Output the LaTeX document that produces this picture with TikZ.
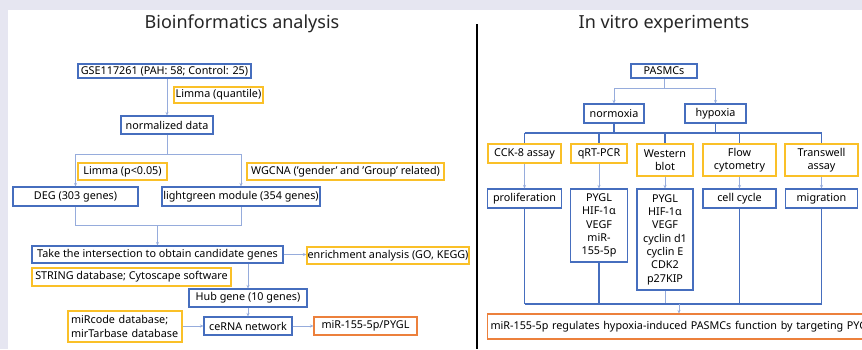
\documentclass[tikz,border=0pt]{standalone}
\usepackage{fontspec}
\setmainfont{Noto Sans}
\usetikzlibrary{arrows.meta}
\definecolor{bgc}{RGB}{230,230,241}
\definecolor{bbl}{RGB}{70,110,190}
\definecolor{ylw}{RGB}{250,192,40}
\definecolor{org}{RGB}{236,128,60}
\definecolor{lbl}{RGB}{150,172,220}
\tikzset{
  box/.style={draw, line width=1.1pt, inner sep=0pt, font=\fontsize{10.8}{13.3}\selectfont, align=center, fill=white},
  bbox/.style={box, draw=bbl},
  ybox/.style={box, draw=ylw},
  obox/.style={box, draw=org},
  lline/.style={draw=lbl, line width=0.7pt},
  larr/.style={lline, -{Stealth[length=3.5pt,width=3pt]}},
  dline/.style={draw=bbl, line width=1.1pt},
  ttl/.style={font=\fontsize{18}{22}\selectfont, text=black!85},
}
\begin{document}
\begin{tikzpicture}[x=1pt,y=-1pt]
\clip (0,0) rectangle (862,349);
\fill[bgc] (0,0) rectangle (862,349);
\fill[white] (8,10) rectangle (862,349);
\draw[line width=2.6pt] (477,24) -- (477,349);
\node[ttl] (t1) at (242,24) {Bioinformatics analysis};
\node[ttl] (t2) at (664,24) {In vitro experiments};
% left
\node[bbox, minimum width=173, minimum height=14] (gse) at (164.5,71) {GSE117261 (PAH: 58; Control: 25)};
\node[ybox, minimum width=89, minimum height=16] (limq) at (218.5,95) {Limma (quantile)};
\node[bbox, minimum width=92, minimum height=18] (norm) at (167,125) {normalized data};
\node[ybox, minimum width=89, minimum height=17] (limp) at (122.5,171.5) {Limma (p<0.05)};
\node[ybox, minimum width=197, minimum height=17] (wgcna) at (345.5,171.5) {WGCNA ('gender' and 'Group' related)};
\node[bbox, minimum width=125, minimum height=19] (deg) at (75.5,196.5) {DEG (303 genes)};
\node[bbox, minimum width=158, minimum height=19] (lg) at (241,196.5) {lightgreen module (354 genes)};
\node[bbox, minimum width=251, minimum height=17] (inter) at (157.5,254.5) {Take the intersection to obtain candidate genes};
\node[ybox, minimum width=162, minimum height=17] (enr) at (388,255.5) {enrichment analysis (GO, KEGG)};
\node[ybox, minimum width=199, minimum height=18] (str) at (131.5,277) {STRING database; Cytoscape software};
\node[bbox, minimum width=118, minimum height=18] (hub) at (248,298) {Hub gene (10 genes)};
\node[ybox, minimum width=114, minimum height=31, align=left, text width=108] (mirc) at (125,326.5) {miRcode database;\\mirTarbase database};
\node[bbox, minimum width=88, minimum height=18] (cerna) at (248,326) {ceRNA network};
\node[obox, minimum width=103, minimum height=18] (mirp) at (365.5,326) {miR-155-5p/PYGL};
\draw[larr] (norm.north |- gse.south) -- (norm.north);
\draw[lline] (norm.south) -- (norm.south |- 0,154);
\draw[lline] (deg.north |- 0,154) -- (lg.north |- 0,154);
\draw[larr] (deg.north |- 0,154) -- (deg.north);
\draw[larr] (lg.north |- 0,154) -- (lg.north);
\draw[lline] (deg.south) -- (deg.south |- 0,225) -- (lg.south |- 0,225) -- (lg.south);
\draw[larr] (inter.north |- 0,225) -- (inter.north);
\draw[larr] (inter.east) -- (enr.west |- inter.east);
\draw[larr] (hub.north |- inter.south) -- (hub.north);
\draw[larr] (hub.south) -- (cerna.north);
\draw[larr] (mirc.east |- cerna.west) -- (cerna.west);
\draw[larr] (cerna.east) -- (mirp.west);
% right
\node[bbox, minimum width=66, minimum height=14] (pas) at (664,71) {PASMCs};
\node[bbox, minimum width=60, minimum height=19] (nor) at (614,113.5) {normoxia};
\node[bbox, minimum width=61, minimum height=19] (hyp) at (715.5,113.5) {hypoxia};
\node[ybox, minimum width=73, minimum height=19] (cck) at (524.5,153.5) {CCK-8 assay};
\node[ybox, minimum width=56, minimum height=19] (qrt) at (599,153.5) {qRT-PCR};
\node[ybox, minimum width=56, minimum height=32] (wb) at (665,160) {Western\\blot};
\node[ybox, minimum width=73, minimum height=32] (flow) at (739.5,160) {Flow\\cytometry};
\node[ybox, minimum width=73, minimum height=32] (trans) at (821.5,160) {Transwell\\assay};
\node[bbox, minimum width=74, minimum height=19] (prol) at (524.5,198.5) {proliferation};
\node[bbox, minimum width=57, minimum height=73] (qrtr) at (599,225.5) {PYGL\\HIF-1α\\VEGF\\miR-\\155-5p};
\node[bbox, minimum width=56, minimum height=101] (wbr) at (665,239.5) {PYGL\\HIF-1α\\VEGF\\cyclin d1\\cyclin E\\CDK2\\p27KIP};
\node[bbox, minimum width=73, minimum height=19] (cell) at (739.5,198.5) {cell cycle};
\node[bbox, minimum width=72, minimum height=19] (mig) at (821.5,198.5) {migration};
\node[obox, minimum width=430, minimum height=25, anchor=west, text width=424, align=left] (fin) at (487,326.5) {miR-155-5p regulates hypoxia-induced PASMCs function by targeting PYGL};
\draw[lline] (pas.south) -- (pas.south |- 0,88);
\draw[lline] (nor.north |- 0,88) -- (hyp.north |- 0,88);
\draw[larr] (nor.north |- 0,88) -- (nor.north);
\draw[larr] (hyp.north |- 0,88) -- (hyp.north);
\draw[dline] (nor.south) -- (nor.south |- 0,133);
\draw[dline] (hyp.south) -- (hyp.south |- 0,133);
\draw[dline] (cck.north |- 0,133) -- (trans.north |- 0,133);
\foreach \n in {cck,qrt,wb,flow,trans} \draw[dline] (\n.north |- 0,133) -- (\n.north);
\draw[larr] (cck.south) -- (prol.north);
\draw[larr] (qrt.south) -- (qrtr.north);
\draw[larr] (wb.south) -- (wbr.north);
\draw[larr] (flow.south) -- (cell.north);
\draw[larr] (trans.south) -- (mig.north);
\foreach \n in {prol,qrtr,cell,mig} \draw[dline] (\n.south) -- (\n.south |- 0,304);
\draw[lline] (wbr.south) -- (wbr.south |- 0,304);
\draw[dline] (prol.south |- 0,304) -- (mig.south |- 0,304);
\coordinate (jn) at (679,304);
\draw[larr] (jn) -- (jn |- fin.north);
\end{tikzpicture}
\end{document}
